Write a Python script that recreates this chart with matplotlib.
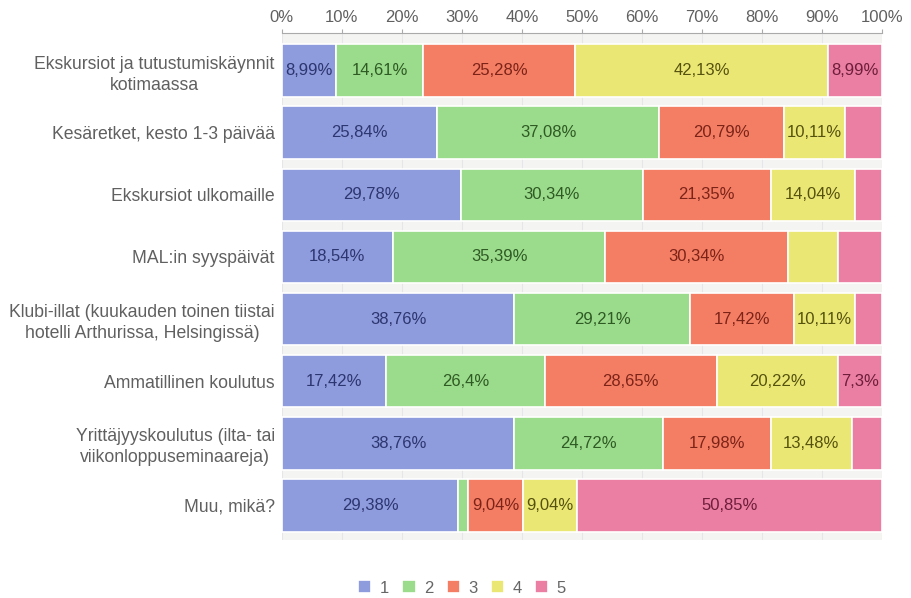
import matplotlib.pyplot as plt
import numpy as np

categories = [
    "Ekskursiot ja tutustumiskäynnit\nkotimaassa",
    "Kesäretket, kesto 1-3 päivää",
    "Ekskursiot ulkomaille",
    "MAL:in syyspäivät",
    "Klubi-illat (kuukauden toinen tiistai\nhotelli Arthurissa, Helsingissä)",
    "Ammatillinen koulutus",
    "Yrittäjyyskoulutus (ilta- tai\nviikonloppuseminaareja)",
    "Muu, mikä?",
]
series_names = ["1", "2", "3", "4", "5"]
s1 = [8.99, 25.84, 29.78, 18.54, 38.76, 17.42, 38.76, 29.38]
s2 = [14.61, 37.08, 30.34, 35.39, 29.21, 26.4, 24.72, 1.69]
s3 = [25.28, 20.79, 21.35, 30.34, 17.42, 28.65, 17.98, 9.04]
s4 = [42.13, 10.11, 14.04, 8.43, 10.11, 20.22, 13.48, 9.04]
s5 = [8.99, 6.18, 4.49, 7.30, 4.49, 7.30, 5.06, 50.85]
# segments shown without a value label in the original (row, series)
unlabeled = [(1, 4), (2, 4), (3, 3), (3, 4), (4, 4), (6, 4), (7, 1)]

x_ticks = [0, 10, 20, 30, 40, 50, 60, 70, 80, 90, 100]

colors = ["#8e9bdc", "#9bdc8c", "#f47e64", "#ebe774", "#ea7fa3"]
text_colors = ["#2c3670", "#2f5a24", "#7c2318", "#55520f", "#6e1d3a"]

plt.rcParams["font.family"] = ["Liberation Sans", "DejaVu Sans"]

fig = plt.figure(figsize=(9.12, 5.98), dpi=100)
ax = fig.add_axes([0.309, 0.097, 0.658, 0.848])
ax.set_facecolor("#f4f5f2")

data = np.array([s1, s2, s3, s4, s5])
y = np.arange(len(categories))
left = np.zeros(len(categories))
for i, vals in enumerate(data):
    ax.barh(y, vals, left=left, height=0.85, color=colors[i],
            edgecolor="white", linewidth=1.2, label=series_names[i], zorder=3)
    for r, v in enumerate(vals):
        if (r, i) in unlabeled:
            continue
        txt = f"{v:.2f}".rstrip("0").rstrip(".").replace(".", ",") + "%"
        ax.text(left[r] + v / 2, r, txt, ha="center", va="center",
                fontsize=12, color=text_colors[i], zorder=4)
    left += vals

ax.set_xlim(0, 100)
ax.set_ylim(7.56, -0.61)
ax.set_yticks(y)
ax.set_yticklabels(categories, fontsize=12.7, color="#606060", ha="right",
                   multialignment="center", linespacing=1.3)
ax.tick_params(axis="y", length=0, pad=5)
ax.xaxis.tick_top()
ax.set_xticks(x_ticks)
ax.set_xticklabels([f"{t}%" for t in x_ticks], fontsize=12, color="#606060")
ax.tick_params(axis="x", length=3, color="#aaaaaa", pad=3)
ax.xaxis.grid(True, color="#e6e6e6", linewidth=0.8, zorder=0)
ax.set_axisbelow(True)
for side in ["bottom", "left", "right"]:
    ax.spines[side].set_visible(False)
ax.spines["top"].set_color("#aaaaaa")

handles, labels = ax.get_legend_handles_labels()
fig.legend(handles, labels, loc="center", bbox_to_anchor=(462 / 912, 1 - 588 / 598),
           ncol=5, frameon=False, fontsize=12, handlelength=0.8, handleheight=0.8,
           handletextpad=0.5, columnspacing=0.8, labelcolor="#666666")

fig.savefig("out.png", dpi=100, facecolor="white")
